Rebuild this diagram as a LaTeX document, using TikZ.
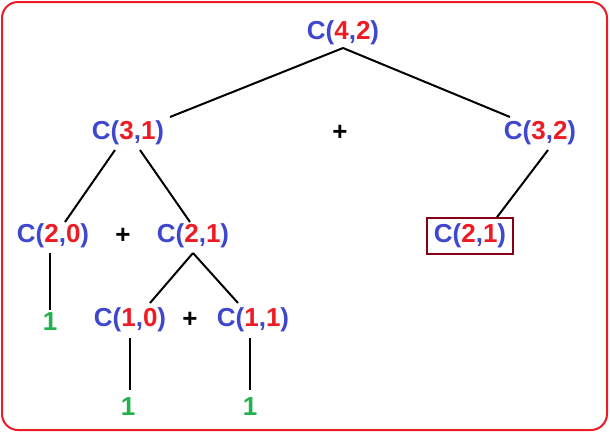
\documentclass[tikz,border=0pt]{standalone}
\usepackage{fontspec}
\setmainfont{Liberation Sans}
\definecolor{cblue}{RGB}{63,72,204}
\definecolor{cred}{RGB}{237,28,36}
\definecolor{cgreen}{RGB}{34,177,76}
\definecolor{cbox}{RGB}{136,0,21}
\newcommand{\cnk}[2]{\textcolor{cblue}{C(}\textcolor{cred}{#1}\textcolor{cblue}{,}\textcolor{cred}{#2}\textcolor{cblue}{)}}
\tikzset{
  term/.style={font=\fontsize{19.5}{22}\selectfont\bfseries, inner sep=2pt},
  one/.style={term, text=cgreen},
  plus/.style={term},
  link/.style={line width=1.5pt}
}
\begin{document}
\begin{tikzpicture}[x=0.75pt,y=-0.75pt]
\useasboundingbox (0,0) rectangle (610,433);
\draw[cred, line width=1.5pt, rounded corners=12pt] (2,2) rectangle (607,430);

\node[term] (c42) at (343,33) {\cnk{4}{2}};
\node[term] (c31) at (128,133) {\cnk{3}{1}};
\node[plus] (p1) at (340,133) {+};
\node[term] (c32) at (540,133) {\cnk{3}{2}};
\node[term] (c20) at (53,236) {\cnk{2}{0}};
\node[plus] (p2) at (123,236) {+};
\node[term] (c21) at (193,236) {\cnk{2}{1}};
\node[term, draw=cbox, line width=1.2pt, minimum width=64.5pt, minimum height=27pt] (c21b) at (470,236) {\cnk{2}{1}};
\node[one] (o1) at (50,322) {1};
\node[term] (c10) at (130,320) {\cnk{1}{0}};
\node[plus] (p3) at (190,320) {+};
\node[term] (c11) at (253,320) {\cnk{1}{1}};
\node[one] (o2) at (128,407) {1};
\node[one] (o3) at (250,407) {1};

\coordinate (c42s) at (343,48);
\draw[link] (c42s) -- (170,117);
\draw[link] (c42s) -- (510,117);
\draw[link] (115,150) -- (65,222);
\draw[link] (140,150) -- (190,222);
\draw[link] (548,150) -- (c21b.north -| 497,0);
\draw[link] (193,253) -- (150,303);
\draw[link] (193,253) -- (238,303);
\draw[link] (50,253) -- (o1.north);
\draw[link] (130,338) -- (130,390);
\draw[link] (250,338) -- (250,390);
\end{tikzpicture}
\end{document}
